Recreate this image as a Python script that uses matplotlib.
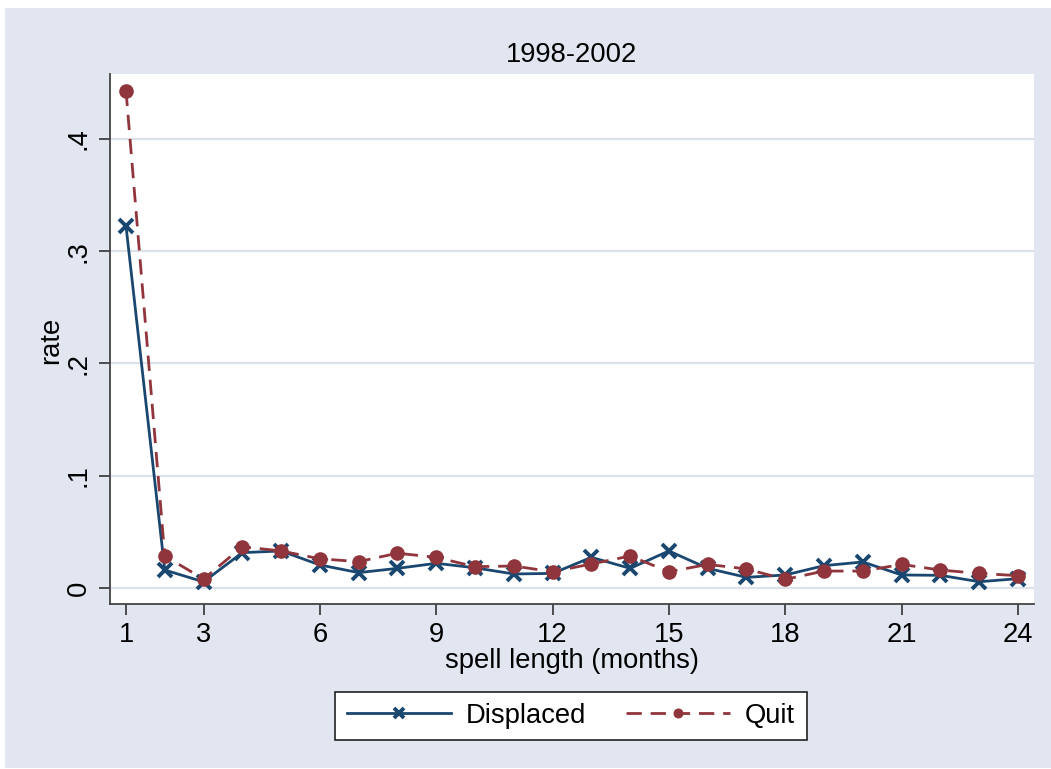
import matplotlib.pyplot as plt
from matplotlib.patches import Rectangle

months = list(range(1, 25))
displaced = [0.3225, 0.016, 0.0055, 0.0315, 0.033, 0.0205, 0.0137, 0.0175,
             0.022, 0.018, 0.0125, 0.013, 0.0273, 0.0175, 0.033, 0.0175,
             0.0095, 0.0116, 0.0199, 0.0232, 0.0116, 0.0113, 0.0056, 0.0083]
quit = [0.443, 0.0285, 0.008, 0.0368, 0.033, 0.026, 0.0235, 0.031,
        0.0273, 0.019, 0.0196, 0.0145, 0.0214, 0.0285, 0.0145, 0.021,
        0.017, 0.0077, 0.0151, 0.0151, 0.021, 0.016, 0.013, 0.011]
xticks = [1, 3, 6, 9, 12, 15, 18, 21, 24]
yticks = [0, 0.1, 0.2, 0.3, 0.4]
ytick_labels = ["0", ".1", ".2", ".3", ".4"]

plt.rcParams['font.family'] = ['Liberation Sans', 'DejaVu Sans']
fs = 19.7
navy = '#1A476F'
maroon = '#90353B'
bg = '#E1E6F0'

fig = plt.figure(figsize=(10.51, 7.69), dpi=100, facecolor='white')
fig.patches.append(Rectangle((5 / 1051, 1 / 769), 1, 760 / 769,
                             transform=fig.transFigure, facecolor=bg,
                             edgecolor='none', zorder=-10))

ax = fig.add_axes([110 / 1051, 165 / 769, 924 / 1051, 530 / 769])
ax.set_facecolor('white')

ax.plot(months, displaced, color=navy, lw=2.0, marker='x', ms=10, mew=2.8,
        label='Displaced', zorder=3)
ax.plot(months, quit, color=maroon, lw=2.0, ls=(0, (5.5, 3.2)), marker='o',
        ms=9.5, label='Quit', zorder=4)

ax.set_xlim(0.5874, 24.414)
ax.set_ylim(-0.01425, 0.4579)
ax.set_xticks(xticks)
ax.set_xticklabels([str(t) for t in xticks], fontsize=fs)
ax.set_yticks(yticks)
ax.set_yticklabels(ytick_labels, fontsize=fs, rotation=90, va='center')
ax.tick_params(axis='both', direction='out', length=8, width=1.2,
               color='#333333', pad=5)
ax.grid(axis='y', color='#DCE2EC', lw=1.6)
ax.set_axisbelow(True)
for s in ['top', 'right']:
    ax.spines[s].set_visible(False)
for s in ['left', 'bottom']:
    ax.spines[s].set_color('#444444')
    ax.spines[s].set_linewidth(1.3)

fig.text(572 / 1051, 1 - 55 / 769, '1998-2002', ha='center', va='center', fontsize=fs)
fig.text(572 / 1051, 1 - 661 / 769, 'spell length (months)', ha='center', va='center', fontsize=fs)
fig.text(51 / 1051, 1 - 340 / 769, 'rate', ha='center', va='center', rotation=90, fontsize=fs)

leg = fig.legend(loc='center', bbox_to_anchor=(571 / 1051, 1 - 716 / 769),
                 bbox_transform=fig.transFigure, ncol=2, fontsize=fs,
                 handlelength=3.8, handletextpad=0.55, columnspacing=1.45,
                 markerscale=0.65, fancybox=False, edgecolor='#222222',
                 framealpha=1, borderpad=0.42, borderaxespad=0)
leg.get_frame().set_linewidth(1.2)

fig.savefig('out.png', dpi=100, facecolor=fig.get_facecolor())
